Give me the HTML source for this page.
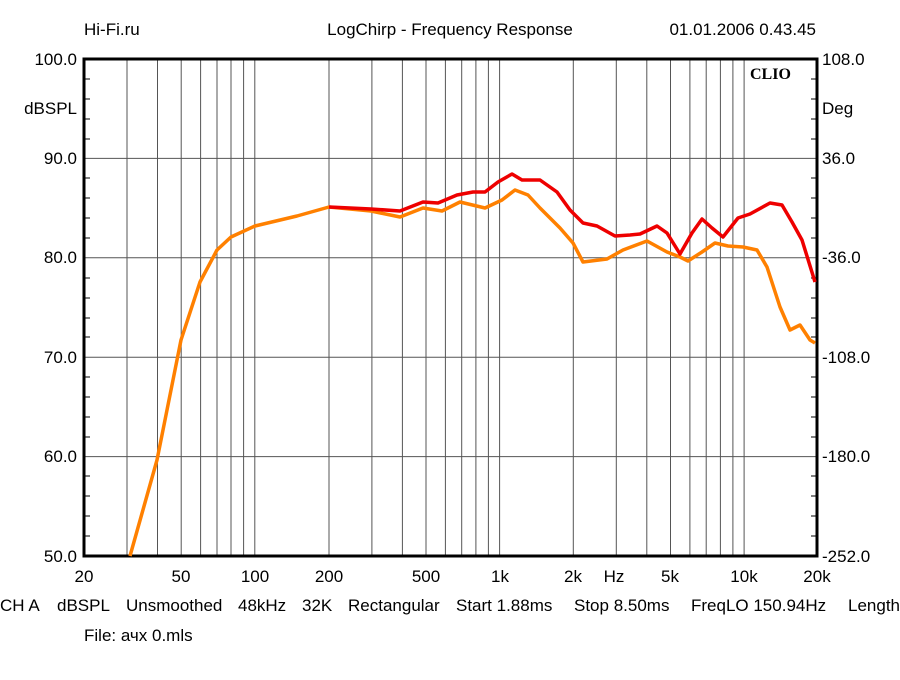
<!DOCTYPE html>
<html><head><meta charset="utf-8"><style>
body{margin:0;background:#fff;}
svg text{font-family:"Liberation Sans",sans-serif;font-size:17px;fill:#000;}
</style></head><body>
<svg width="900" height="675" xmlns="http://www.w3.org/2000/svg">
<rect width="900" height="675" fill="#fff"/>
<g stroke="#555" stroke-width="1">
<line x1="127" y1="59" x2="127" y2="556"/><line x1="157.5" y1="59" x2="157.5" y2="556"/><line x1="181.2" y1="59" x2="181.2" y2="556"/><line x1="200.6" y1="59" x2="200.6" y2="556"/><line x1="217" y1="59" x2="217" y2="556"/><line x1="231" y1="59" x2="231" y2="556"/><line x1="243.6" y1="59" x2="243.6" y2="556"/><line x1="254.8" y1="59" x2="254.8" y2="556"/>
<line x1="329" y1="59" x2="329" y2="556"/><line x1="371.9" y1="59" x2="371.9" y2="556"/><line x1="402.4" y1="59" x2="402.4" y2="556"/><line x1="426" y1="59" x2="426" y2="556"/><line x1="445.4" y1="59" x2="445.4" y2="556"/><line x1="461.7" y1="59" x2="461.7" y2="556"/><line x1="475.9" y1="59" x2="475.9" y2="556"/><line x1="488.4" y1="59" x2="488.4" y2="556"/><line x1="499.6" y1="59" x2="499.6" y2="556"/>
<line x1="573.3" y1="59" x2="573.3" y2="556"/><line x1="616.3" y1="59" x2="616.3" y2="556"/><line x1="646.8" y1="59" x2="646.8" y2="556"/><line x1="670.5" y1="59" x2="670.5" y2="556"/><line x1="689.9" y1="59" x2="689.9" y2="556"/><line x1="706.2" y1="59" x2="706.2" y2="556"/><line x1="720.4" y1="59" x2="720.4" y2="556"/><line x1="732.9" y1="59" x2="732.9" y2="556"/><line x1="744.1" y1="59" x2="744.1" y2="556"/>
<line x1="84" y1="158.4" x2="817" y2="158.4"/><line x1="84" y1="257.8" x2="817" y2="257.8"/><line x1="84" y1="357.2" x2="817" y2="357.2"/><line x1="84" y1="456.6" x2="817" y2="456.6"/>
</g>
<g stroke="#000" stroke-width="1">
<path d="M84 79h6M84 99h6M84 119h6M84 139h6M84 178h6M84 198h6M84 218h6M84 238h6M84 278h6M84 298h6M84 318h6M84 337h6M84 377h6M84 397h6M84 417h6M84 437h6M84 476h6M84 496h6M84 516h6M84 536h6"/>
<path d="M817 79h-6M817 99h-6M817 119h-6M817 139h-6M817 178h-6M817 198h-6M817 218h-6M817 238h-6M817 278h-6M817 298h-6M817 318h-6M817 337h-6M817 377h-6M817 397h-6M817 417h-6M817 437h-6M817 476h-6M817 496h-6M817 516h-6M817 536h-6"/>
</g>
<rect x="84" y="59" width="733" height="497" fill="none" stroke="#000" stroke-width="3"/>
<text x="750" y="79" style="font-family:'Liberation Serif',serif;font-weight:bold;font-size:16px">CLIO</text>
<polyline fill="none" stroke="#ff8000" stroke-width="3.5" stroke-linejoin="round" points="130,556 157,460 181,340 200,282 217,250 231,237 255,226 297,216 329,207 371,211 400,217 423,208 442,211 460,202 485,208 502,200 515,190 528,195 540,208 560,228 573,243 583,262 607,259 623,250 647,241 667,252 680,257 688,261 702,252 715,243 728,246 743,247 757,250 767,267 780,307 790,330 800,325 810,340 815,343"/>
<polyline fill="none" stroke="#ee0000" stroke-width="3.5" stroke-linejoin="round" points="329,207 371,209 400,211 423,202 438,203 457,195 473,192 485,192 498,182 512,174 522,180 540,180 557,192 570,210 583,223 597,226 615,236 630,235 640,234 657,226 667,233 680,254 692,233 702,219 712,228 723,237 738,218 750,214 770,203 782,205 792,222 802,240 815,282"/>
<text x="84" y="35">Hi-Fi.ru</text>
<text x="450" y="35" text-anchor="middle">LogChirp - Frequency Response</text>
<text x="816" y="35" text-anchor="end">01.01.2006 0.43.45</text>
<g text-anchor="end">
<text x="77" y="65">100.0</text><text x="77" y="114">dBSPL</text><text x="77" y="164">90.0</text><text x="77" y="263">80.0</text><text x="77" y="363">70.0</text><text x="77" y="462">60.0</text><text x="77" y="562">50.0</text>
</g>
<g>
<text x="822" y="65">108.0</text><text x="822" y="114">Deg</text><text x="822" y="164">36.0</text><text x="822" y="263">-36.0</text><text x="822" y="363">-108.0</text><text x="822" y="462">-180.0</text><text x="822" y="562">-252.0</text>
</g>
<g text-anchor="middle">
<text x="84" y="582">20</text><text x="181" y="582">50</text><text x="255" y="582">100</text><text x="329" y="582">200</text><text x="426" y="582">500</text><text x="500" y="582">1k</text><text x="573" y="582">2k</text><text x="614" y="582">Hz</text><text x="670" y="582">5k</text><text x="744" y="582">10k</text><text x="817" y="582">20k</text>
</g>
<text x="0" y="611">CH A</text><text x="57" y="611">dBSPL</text><text x="126" y="611">Unsmoothed</text><text x="238" y="611">48kHz</text><text x="302" y="611">32K</text><text x="348" y="611">Rectangular</text><text x="456" y="611">Start 1.88ms</text><text x="574" y="611">Stop 8.50ms</text><text x="691" y="611">FreqLO 150.94Hz</text><text x="848" y="611">Length</text>
<text x="84" y="641">File: ачх 0.mls</text>
</svg>
</body></html>
